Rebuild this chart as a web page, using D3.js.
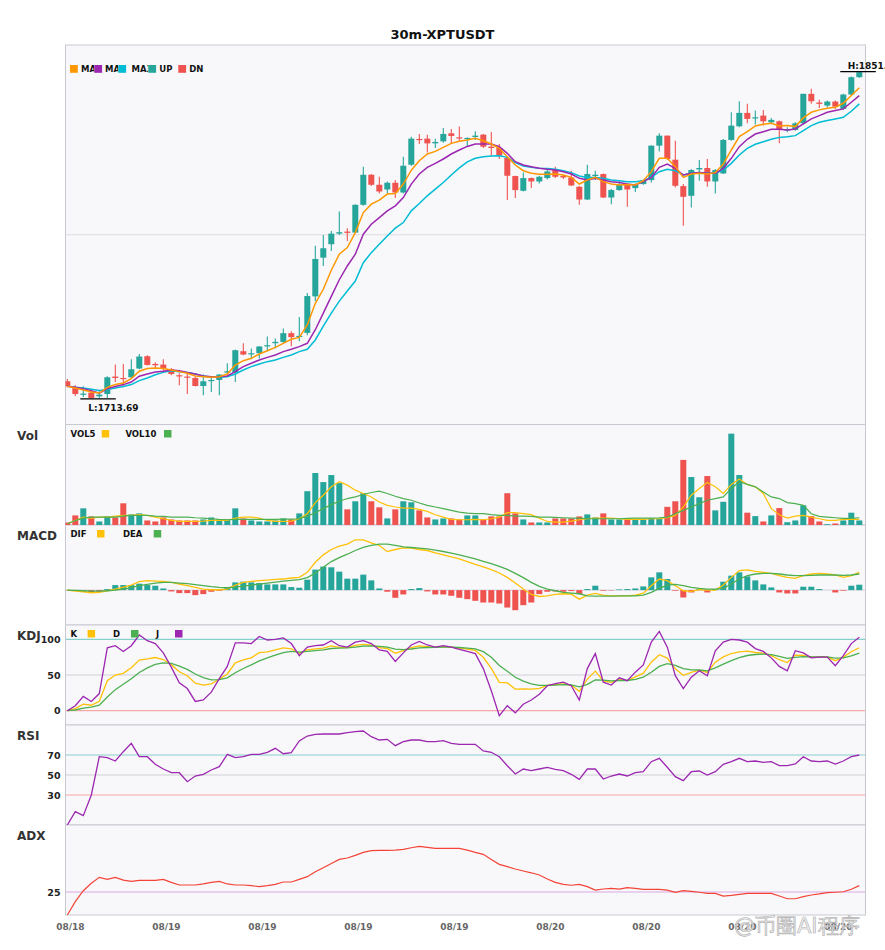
<!DOCTYPE html>
<html><head><meta charset="utf-8">
<script src="https://cdn.jsdelivr.net/npm/d3@7/dist/d3.min.js"></script>
<style>
body{margin:0;background:#fff}
svg{display:block}
text{font-family:"DejaVu Sans",sans-serif}
</style>
</head><body>
<svg id="c" width="885" height="950"></svg>
<script>
// ---------------- DATA ----------------
const title = "30m-XPTUSDT";
const tickIndex = [0,12,24,36,48,60,72,84,96];
const tickLabels = ["08/18","08/19","08/19","08/19","08/19","08/20","08/20","08/20","08/20"];

const open = [1720.85,1718.45,1715.25,1716.09,1714.53,1715.50,1722.83,1722.24,1722.53,1726.20,
1731.38,1728.14,1727.88,1725.90,1723.38,1722.83,1722.24,1718.87,1720.98,1721.40,
1724.51,1724.51,1733.48,1732.22,1732.64,1735.59,1736.85,1737.40,1741.06,1739.51,
1741.19,1756.52,1772.78,1778.42,1782.88,1783.73,1783.30,1794.97,1807.60,1803.39,
1801.41,1804.24,1800.15,1811.82,1822.64,1822.77,1820.79,1821.63,1825.00,1823.31,
1822.64,1823.48,1824.45,1819.40,1818.85,1814.64,1807.06,1800.87,1806.21,1804.78,
1806.21,1809.58,1807.06,1806.47,1802.55,1797.20,1807.06,1807.90,1798.04,1801.16,
1803.39,1802.00,1803.69,1805.37,1819.82,1824.03,1813.92,1802.84,1798.76,1809.84,
1810.43,1804.78,1808.15,1822.22,1827.95,1833.59,1831.32,1832.45,1829.63,1830.05,
1826.26,1826.43,1829.21,1841.59,1837.93,1836.66,1838.35,1835.27,1841.30,1848.58];
const high = [1721.82,1719.16,1718.74,1716.64,1716.64,1722.96,1727.88,1728.14,1730.11,1732.35,
1731.80,1728.85,1730.11,1726.45,1724.22,1723.92,1722.83,1723.67,1722.83,1723.92,
1728.43,1734.20,1736.85,1734.62,1735.72,1739.67,1738.83,1743.04,1741.91,1747.80,
1757.91,1777.83,1782.34,1784.02,1792.15,1785.16,1795.26,1810.97,1807.90,1806.76,
1804.78,1805.37,1815.18,1823.61,1824.74,1824.45,1822.77,1827.27,1826.85,1827.82,
1823.31,1825.84,1824.74,1825.59,1820.53,1815.18,1807.18,1808.57,1806.47,1807.18,
1809.58,1810.97,1807.60,1809.29,1802.84,1811.82,1809.29,1808.15,1801.58,1804.78,
1803.94,1803.94,1805.63,1819.95,1825.00,1824.10,1821.92,1803.69,1810.00,1813.79,
1814.22,1810.00,1822.64,1833.84,1838.47,1837.38,1834.56,1834.85,1831.48,1830.35,
1827.52,1829.63,1841.65,1843.69,1839.07,1838.77,1838.77,1841.59,1848.88,1851.11];
const low = [1718.32,1714.66,1714.24,1713.75,1713.69,1713.82,1720.55,1718.32,1722.24,1725.90,
1727.46,1726.03,1725.06,1723.38,1719.16,1715.50,1718.62,1714.95,1716.34,1714.95,
1723.67,1720.55,1731.80,1730.11,1730.41,1733.48,1734.62,1736.85,1735.59,1737.69,
1740.22,1754.54,1769.28,1775.60,1782.34,1779.81,1782.88,1794.55,1802.84,1799.73,
1799.73,1797.79,1799.73,1811.39,1820.53,1817.00,1818.85,1821.08,1820.79,1821.92,
1819.40,1822.22,1818.85,1815.61,1814.22,1796.95,1797.79,1800.57,1802.00,1803.94,
1805.63,1806.21,1805.79,1802.84,1794.97,1796.95,1805.37,1797.79,1795.26,1800.87,
1794.13,1800.32,1803.39,1804.36,1817.42,1813.92,1802.26,1786.13,1793.83,1805.08,
1802.55,1799.73,1807.90,1821.92,1827.52,1829.21,1828.66,1828.24,1829.21,1820.79,
1825.42,1826.13,1828.66,1837.38,1835.69,1835.95,1835.27,1834.85,1840.87,1848.33];
const close = [1718.74,1715.50,1715.67,1713.82,1715.25,1722.53,1722.24,1721.82,1725.90,1731.25,
1727.71,1727.59,1726.20,1723.92,1722.96,1722.41,1718.87,1720.85,1721.40,1723.67,
1725.06,1733.90,1732.09,1732.64,1735.46,1736.01,1737.40,1741.06,1739.38,1739.93,
1756.65,1772.23,1776.73,1782.88,1783.47,1783.18,1794.97,1807.60,1803.39,1800.57,
1804.24,1800.15,1811.39,1822.77,1822.22,1820.79,1821.38,1824.74,1823.90,1822.89,
1823.06,1824.03,1819.40,1818.85,1815.61,1807.18,1801.16,1806.21,1804.78,1806.76,
1808.99,1806.76,1806.47,1803.10,1797.20,1807.90,1807.60,1798.04,1801.16,1803.39,
1801.41,1803.39,1805.37,1819.82,1824.03,1814.22,1802.97,1798.34,1809.58,1810.43,
1804.78,1809.58,1822.22,1828.24,1833.59,1831.06,1831.74,1830.05,1830.64,1826.43,
1826.68,1829.21,1841.59,1838.47,1837.38,1838.35,1836.24,1841.30,1848.58,1850.69];

const ma5 = [1718.74,1718.03,1717.19,1716.34,1715.92,1718.32,1719.46,1720.13,1721.99,1725.06,
1726.20,1726.45,1726.2,1725.6,1724.9,1724.2,1723.1,1722.8,1722.5,1722.8,
1723.9,1727.7,1729.5,1730.5,1732.3,1733.7,1735.1,1736.8,1738.5,1739.3,
1744.5,1753.6,1759.5,1767.5,1774.21,1776.99,1783.30,1791.73,1795.26,1796.95,
1799.48,1799.73,1803.69,1809.5,1813.5,1816.32,1817.42,1819.10,1820.79,1821.63,
1822.22,1822.9,1821.9,1820.5,1818.7,1815.2,1811.7,1809.3,1808.2,1807.8,
1807.8,1807.9,1807.5,1806.5,1803.7,1805.4,1806.5,1804.7,1803.7,1803.3,
1803.5,1803.3,1805.1,1808.9,1814.5,1814.5,1811.0,1806.5,1807.9,1808.2,
1807.9,1808.5,1812.1,1818.0,1823.6,1825.7,1828.1,1828.8,1829.2,1828.1,
1828.24,1827.82,1831.48,1833.84,1834.85,1835.53,1835.95,1837.63,1840.87,1844.12];
const ma10 = [1718.74,1718.32,1717.77,1716.93,1715.80,1717.77,1718.62,1719.46,1720.55,1722.96,
1723.92,1724.77,1725.06,1725.6,1725.3,1724.5,1723.9,1723.1,1722.8,1722.8,
1723.1,1724.9,1727.0,1728.4,1729.8,1730.9,1731.9,1733.3,1734.3,1735.4,
1736.8,1742.5,1749.5,1756.5,1763.5,1769.28,1774.21,1782.63,1786.84,1789.62,
1792.44,1794.55,1798.04,1803.69,1807.90,1810.68,1812.36,1814.22,1816.32,1818.01,
1819.5,1820.5,1820.5,1820.5,1819.4,1816.6,1813.1,1811.7,1811.0,1810.3,
1809.9,1809.6,1808.9,1807.9,1806.1,1805.4,1806.1,1805.4,1804.7,1804.3,
1803.7,1803.3,1804.7,1806.5,1810.7,1812.1,1810.3,1807.5,1808.2,1808.5,
1808.2,1808.2,1810.3,1814.5,1819.4,1822.5,1824.7,1825.7,1826.7,1826.7,
1826.43,1826.85,1828.96,1831.06,1832.45,1833.84,1834.56,1835.27,1838.05,1840.87];
const ma30 = [1718.74,1718.32,1718.03,1717.48,1716.93,1717.35,1718.03,1718.62,1719.46,1721.14,
1722.24,1723.6,1724.6,1725.3,1724.9,1724.5,1723.9,1723.1,1722.5,1722.5,
1722.8,1723.9,1725.6,1727.0,1728.1,1729.1,1729.8,1730.9,1731.9,1733.3,
1734.3,1738.2,1744.0,1749.5,1754.54,1758.75,1762.96,1770.67,1774.88,1778.42,
1781.91,1785.16,1787.51,1792.44,1795.52,1798.76,1801.58,1804.36,1807.5,1810.5,
1813.0,1814.5,1815.2,1815.5,1815.6,1814.9,1812.7,1811.3,1810.7,1810.3,
1810.2,1809.9,1809.3,1808.5,1807.1,1806.5,1806.5,1806.1,1805.4,1805.1,
1804.7,1804.7,1805.1,1806.5,1808.9,1809.9,1809.3,1807.5,1808.2,1808.5,
1808.2,1808.2,1809.6,1812.4,1815.9,1818.7,1820.4,1821.5,1822.5,1823.3,
1823.6,1824.03,1826.13,1828.24,1829.63,1830.35,1831.06,1831.74,1834.26,1837.38];

const volume = [2.5,9.5,16.5,8.5,3.5,8.5,7.5,21.5,10.5,11.5,
4.5,3.5,7.5,5.5,4.5,4.5,4.5,5.5,7.5,5.5,
5.5,16.5,6.5,4.5,3.5,3.5,4.5,6.5,5.5,11.5,
33.5,51.5,42.5,49.5,41.5,15.5,23.5,31.5,23.5,17.5,
6.5,15.5,23.5,22.5,14.5,7.5,5.5,6.5,6.5,5.5,
9.5,9.5,5.5,8.5,8.5,31.5,11.5,5.5,2.5,2.5,
2.5,6.5,6.5,6.5,8.5,10.5,7.5,11.5,5.5,5.5,
5.5,5.5,5.5,6.5,6.5,18,23.5,64.5,47.5,27.5,
48.5,14.5,23,90.5,49.5,12.2,8.8,3.5,9.5,16.8,
2.8,4.5,19.5,8.8,3.5,0.8,1.5,4.5,12.2,4.5];
const vol5 = [1.2,4.5,7.8,6.8,7.8,7.8,8.8,9.5,9.5,10.2,
9.5,7.8,6.2,4.5,3.5,3.5,3.5,3.8,4.5,4.5,
4.5,6.8,7.8,7.8,6.8,4.5,3.5,3.5,3.8,6.2,
11.2,22.2,29.5,37.8,42.8,39.5,34.5,31.2,27.8,22.8,
19.5,17.8,16.8,16.8,15.5,13.5,10.2,7.8,5.5,5.2,
5.2,5.5,5.2,6.2,7.8,12.2,12.2,11.2,10.2,6.8,
3.5,2.8,2.8,3.8,5.2,6.2,6.8,6.8,6.8,6.2,
5.5,5.5,5.5,6.2,6.2,7.2,9.5,17.8,29.5,36.2,
42.2,37.8,31.2,40.2,45.5,40.2,37.8,31.2,16.2,10.2,
6.8,8.8,9.5,7.8,6.2,4.5,4.5,5.5,5.5,5.5];
const vol10 = [1.2,4.5,6.8,7.8,7.8,7.8,7.8,8.8,9.5,9.5,
9.5,8.8,8.5,7.8,7.8,7.8,7.2,6.8,6.2,5.5,
5.2,5.5,5.5,5.5,5.5,5.5,5.5,5.8,5.8,6.2,
8.8,12.2,16.2,20.2,23.5,26.2,27.8,30.2,32.2,33.5,
31.2,28.5,26.2,24.5,21.8,19.5,17.8,16.2,14.5,12.8,
11.8,11.2,11.2,10.2,9.5,9.5,8.8,8.8,8.5,7.8,
7.8,7.5,7.2,6.8,6.8,6.2,6.2,6.2,6.2,6.2,
6.5,6.8,6.8,6.8,7.2,7.8,11.2,14.5,17.8,21.2,
24.5,26.2,27.8,36.2,42.8,40.2,37.8,32.8,27.8,26.2,
22.2,21.2,19.5,11.2,8.5,7.8,7.2,6.5,6.5,7.2];

const dif = [0,-0.2,-0.33,-0.53,-0.47,-0.13,0.2,0.6,1.0,1.67,
1.87,1.8,1.73,1.53,1.2,0.87,0.53,0.2,0.07,0.07,
0.2,1.0,1.53,1.73,1.87,2.0,2.13,2.2,2.4,2.53,
3.53,5.53,7.0,8.07,8.73,9.13,10.0,10.0,9.4,8.87,
7.67,8.07,8.4,8.33,8.07,7.87,7.4,7.0,6.6,6.2,
5.67,5.13,4.6,4.07,3.4,2.53,1.4,0.2,-0.87,-1.27,
-1.13,-0.87,-0.73,-0.8,-1.8,-1.0,-0.67,-1.0,-1.13,-1.13,
-1.13,-1.0,-0.6,0.87,2.2,1.87,0.87,-0.13,-0.27,0.07,
0,0,1.0,2.53,3.87,4.0,3.73,3.53,3.33,2.87,
2.53,2.33,2.87,3.2,3.33,3.2,3.0,2.53,2.87,3.53];
const dea = [0,-0.07,-0.13,-0.2,-0.2,-0.13,0,0.2,0.47,0.87,
1.13,1.4,1.53,1.53,1.4,1.27,1.07,0.87,0.67,0.53,
0.47,0.6,0.8,1.0,1.2,1.4,1.6,1.8,1.93,2.07,
2.47,3.4,4.53,5.67,6.47,7.13,7.87,8.47,8.87,9.13,
9.13,8.87,8.6,8.47,8.33,8.2,7.93,7.67,7.33,7.0,
6.6,6.2,5.73,5.27,4.73,4.13,3.33,2.47,1.53,0.73,
0.2,-0.13,-0.47,-0.6,-0.73,-1.13,-1.2,-1.2,-1.2,-1.13,
-1.13,-1.13,-1.0,-0.47,0.33,1.0,1.13,0.87,0.53,0.33,
0.2,0.2,0.33,1.2,2.2,2.87,3.2,3.33,3.33,3.2,
3.0,2.87,2.87,2.93,3.0,3.0,3.0,2.93,3.0,3.2];
const macdHist = [-0.07,-0.13,-0.27,-0.47,-0.33,0.2,1.0,1.0,1.0,1.27,
1.0,0.87,0.33,-0.27,-0.6,-0.6,-1.0,-0.8,-0.33,-0.13,
0.4,1.53,1.67,1.53,1.4,1.13,1.13,1.13,0.6,0.47,
2.07,4.07,4.67,4.53,3.67,2.27,2.27,3.07,1.93,0.33,
-0.33,-1.53,-0.87,0.2,0.4,-0.27,-0.87,-0.87,-1.13,-1.53,
-1.8,-2.13,-2.47,-2.47,-2.67,-3.47,-4.0,-3.0,-2.47,-0.8,
-0.33,-0.27,-0.33,-0.2,-0.8,0.2,0.87,-0.13,-0.07,0.13,
0.2,0.33,0.73,2.53,3.53,2.2,-0.13,-1.47,-0.47,0.2,
-0.47,0.2,1.67,2.87,3.53,2.73,1.93,1.13,0.53,-0.47,
-0.67,-0.67,0.67,0.67,0.2,0,-0.47,-0.13,0.87,1.07];

const kLine = [0,3,9.1,7.7,13.1,42.1,50,52.4,60.2,71,
72.6,74.5,71.7,64.5,54.5,48.9,38.6,35.8,37.5,44,
51.4,67.1,71.1,74.1,81.2,82.3,85.1,88.1,86.7,80.4,
85.1,86.5,87.5,90.7,88.8,88.3,91.4,92.9,91.9,88.4,
87.1,80.5,84,88.3,90.9,89.7,88.7,89.6,88.9,87.7,
86.1,84.4,74.8,59.3,39.8,39.1,30.3,30.7,30.1,31.4,
35.3,36.6,37.7,35.9,27.2,44.3,55.4,41.8,39.8,43.5,
42.2,47.3,52.6,67.9,78.4,73.6,58.7,49.6,53.8,56.7,
53.6,67.9,75.4,80.1,82.5,83.5,81.5,80.5,77,71.4,
67.5,77.8,77.4,74.9,75.2,75.2,70,75,82.6,88.1];
const dLine = [0,1,3.7,5,7.7,19.2,29.5,37.1,44.8,53.5,
59.9,64.8,67.1,66.2,62.3,57.8,51.4,46.2,43.3,43.5,
46.1,53.1,59.1,64.1,69.8,74,77.7,81.2,83,82.1,
83.1,84.2,85.3,87.1,87.7,87.9,89.1,90.4,90.9,90.1,
89.1,86.2,85.5,86.4,87.9,88.5,88.6,88.9,88.9,88.5,
87.7,86.6,82.7,74.9,63.2,55.2,46.9,41.5,37.7,35.6,
35.5,35.9,36.5,36.3,33.3,37,43.1,42.7,41.7,42.3,
42.3,44,46.9,53.9,62.1,65.9,63.5,58.9,57.2,57,
55.9,59.9,65.1,70.1,74.2,77.3,78.7,79.3,78.5,76.1,
73.2,74.7,75.6,75.4,75.3,75.3,73.5,74,76.9,80.6];
const jLine = [0,7,20,13,24,88,91,83,91,106,
98,94,81,61,39,31,13,15,26,45,
62,95,95,94,104,99,100,102,94,77,
89,91,92,98,91,89,96,98,94,85,
83,69,81,92,97,92,89,91,89,86,
83,80,59,28,-7,7,-3,9,15,23,
35,38,40,35,15,59,80,40,36,46,
42,54,64,96,111,89,49,31,47,56,
49,84,96,100,99,96,87,83,74,62,
56,84,81,74,75,75,63,77,94,103];

const rsi = [0,13.3,9.3,30,68.3,67.3,64,73.3,81.7,68.3,
68.3,60.7,56,52.3,52.3,43.3,49,50.7,55,58.3,
70.7,67.3,68.3,70.7,70.7,72.7,76.7,71.3,72.3,84,
89,90.7,91,91,91,92.3,93.3,94,88.3,85,
85.7,79.3,83.3,85,85,83.3,83.3,84.3,81.7,80.7,
80.7,80.7,74,72.7,68.3,59.3,51,56,54.3,56,
57.7,55.7,54.3,50.7,45.7,56,56,46,49,51,
49,52.3,53.3,63.3,66.7,57.7,48.3,44.3,53.3,54,
50,53.3,60.7,63.3,66.7,63.3,64,62.7,63.3,59.3,
59.3,61,68.3,64,63.3,64,61,64,68.3,70];

const adx = [7.3,17.6,26,31.7,36.3,34.7,36.3,34.2,33.2,34,
34,34,34.7,32.4,30.4,30.4,30.4,31.2,32.4,33.2,
31.2,30.4,30.4,29.9,29.1,29.9,30.9,32.7,32.7,34.7,
36.8,40.6,43.7,47,50.1,51.2,53.2,55.5,56.8,57.1,
57.1,57.3,57.8,59.1,60.2,59.4,58.6,58.6,58.6,58.6,
57.3,55.5,54,50.1,46.3,44.5,42.7,41.2,39.8,38.1,
35,32.4,30.9,30.2,30.9,29.1,26.5,27.3,27.8,27.3,
28.3,27.8,27.1,27.1,27.1,26.5,24.8,26,25.5,24.8,
24,24,21.9,22.4,23.2,24,24,24,24,21.9,
19.8,19.8,21.4,22.7,23.5,24.5,24.8,25.2,27.1,29.9];

const kdjLevels = [0,50,100];
const rsiLevels = [30,50,70];
const adxLevels = [25];

// ---------------- STYLE ----------------
const C = {up:"#26A69A", dn:"#EF5350", ma5:"#FF9800", ma10:"#9C27B0", ma30:"#00BCD4",
  yel:"#FFC107", grn:"#4CAF50", pur:"#9C27B0", adx:"#F44336",
  bg:"#f8f8fb", border:"#c8c8d2"};
const L = 65.5, R = 865.5;
const P = {
  main:[45,424.5], vol:[424.5,525], macd:[525,625], kdj:[625,725], rsi:[725,825], adx:[825,915]
};

const svg = d3.select("#c");
const n = close.length, idx = d3.range(n);
const xs = d3.scaleBand().domain(idx).range([63.3, 863.3]);
const cx = i => xs(i) + xs.bandwidth()/2;
const isUp = i => close[i] >= open[i];

Object.entries(P).forEach(([k,[t,b]])=>{
  svg.append("rect").attr("x",L).attr("y",t).attr("width",R-L).attr("height",b-t)
    .attr("fill",C.bg).attr("stroke",C.border).attr("stroke-width",1);
  svg.append("clipPath").attr("id","clip-"+k).append("rect")
    .attr("x",L).attr("y",t).attr("width",R-L).attr("height",b-t);
});

svg.append("text").attr("x",442.5).attr("y",39).attr("text-anchor","middle")
  .attr("font-size",13).attr("font-weight","bold").attr("fill","#111").text(title);

// ---- main price panel ----
const lo = d3.min(low), hi = d3.max(high), pad = (hi-lo)*0.08;
const yP = d3.scaleLinear().domain([lo-pad, hi+pad]).range([P.main[1], P.main[0]]);
const gMain = svg.append("g").attr("clip-path","url(#clip-main)");
gMain.append("line").attr("x1",L).attr("x2",R)
  .attr("y1",yP((lo+hi)/2)).attr("y2",yP((lo+hi)/2)).attr("stroke","#dcdce2").attr("stroke-width",1);

gMain.selectAll("line.wick").data(idx).join("line").attr("class","wick")
  .attr("x1",cx).attr("x2",cx).attr("y1",i=>yP(high[i])).attr("y2",i=>yP(low[i]))
  .attr("stroke",i=>isUp(i)?C.up:C.dn).attr("stroke-width",1.1);
gMain.selectAll("rect.body").data(idx).join("rect").attr("class","body")
  .attr("x",i=>cx(i)-3).attr("width",6)
  .attr("y",i=>yP(Math.max(open[i],close[i])))
  .attr("height",i=>Math.max(1.2, Math.abs(yP(open[i])-yP(close[i]))))
  .attr("fill",i=>isUp(i)?C.up:C.dn);

const line = (ys, arr) => d3.line().x((d,i)=>cx(i)).y(d=>ys(d))(arr);
[[ma30,C.ma30],[ma10,C.ma10],[ma5,C.ma5]].forEach(([a,c])=>{
  gMain.append("path").attr("d",line(yP,a)).attr("fill","none").attr("stroke",c).attr("stroke-width",1.5);
});

const iHi = high.indexOf(hi), iLo = low.indexOf(lo);
svg.append("line").attr("x1",cx(iHi)-19).attr("x2",cx(iHi)+16.5).attr("y1",yP(hi)+0.5).attr("y2",yP(hi)+0.5)
  .attr("stroke","#000").attr("stroke-width",1.2);
svg.append("text").attr("x",cx(iHi)-11.6).attr("y",yP(hi)-2.5).attr("font-size",9).attr("font-weight","bold")
  .attr("fill","#111").text("H:"+hi.toFixed(2));
svg.append("line").attr("x1",cx(iLo)-19).attr("x2",cx(iLo)+16.5).attr("y1",yP(lo)+0.5).attr("y2",yP(lo)+0.5)
  .attr("stroke","#000").attr("stroke-width",1.2);
svg.append("text").attr("x",cx(iLo)-11).attr("y",yP(lo)+13).attr("font-size",9).attr("font-weight","bold")
  .attr("fill","#111").text("L:"+lo.toFixed(2));

const mainLegend = [
  {sq:70, tx:81, end:94.3, c:C.ma5, t:"MA5"},
  {sq:94.3, tx:105, end:118.3, c:C.ma10, t:"MA10"},
  {sq:118.3, tx:131.5, end:148.3, c:C.ma30, t:"MA30"},
  {sq:148.3, tx:159.3, end:178, c:C.up, t:"UP"},
  {sq:178.3, tx:189.3, end:240, c:C.dn, t:"DN"}
];
mainLegend.forEach((d,k)=>{
  svg.append("clipPath").attr("id","lg"+k).append("rect").attr("x",d.tx-1).attr("y",55).attr("width",d.end-d.tx+1).attr("height",25);
  svg.append("text").attr("x",d.tx).attr("y",72).attr("font-size",8.5).attr("font-weight","bold")
    .attr("fill","#111").attr("clip-path","url(#lg"+k+")").text(d.t);
  svg.append("rect").attr("x",d.sq).attr("y",65).attr("width",7.8).attr("height",7.8).attr("fill",d.c);
});

[["Vol",P.vol[0]],["MACD",P.macd[0]],["KDJ",P.kdj[0]],["RSI",P.rsi[0]],["ADX",P.adx[0]]].forEach(([t,y])=>{
  svg.append("text").attr("x",17).attr("y",y+15).attr("font-size",12).attr("font-weight","bold")
    .attr("fill","#333").text(t);
});
function legend(items, y){
  items.forEach(d=>{
    svg.append("text").attr("x",d.x).attr("y",y+7).attr("font-size",8.5).attr("font-weight","bold").attr("fill","#111").text(d.t);
    svg.append("rect").attr("x",d.sq).attr("y",y).attr("width",7.5).attr("height",7.5).attr("fill",d.c);
  });
}

// ---- volume ----
const yV = d3.scaleLinear().domain([0, d3.max(volume)*1.1]).range([P.vol[1], P.vol[0]]);
const gVol = svg.append("g").attr("clip-path","url(#clip-vol)");
gVol.selectAll("rect").data(idx).join("rect")
  .attr("x",i=>cx(i)-3).attr("width",6).attr("y",i=>yV(volume[i])).attr("height",i=>yV(0)-yV(volume[i]))
  .attr("fill",i=>isUp(i)?C.up:C.dn);
gVol.append("path").attr("d",line(yV,vol5)).attr("fill","none").attr("stroke",C.yel).attr("stroke-width",1.2);
gVol.append("path").attr("d",line(yV,vol10)).attr("fill","none").attr("stroke",C.grn).attr("stroke-width",1.2);
legend([{x:70.5,t:"VOL5",sq:101.7,c:C.yel},{x:125.4,t:"VOL10",sq:164,c:C.grn}], 430);

// ---- MACD ----
const mExt = d3.extent([...dif,...dea,...macdHist]);
const mPad = (mExt[1]-mExt[0])*0.21;
const yM = d3.scaleLinear().domain([mExt[0]-mPad, mExt[1]+mPad]).range([P.macd[1], P.macd[0]]);
const gM = svg.append("g").attr("clip-path","url(#clip-macd)");
gM.append("line").attr("x1",L).attr("x2",R).attr("y1",yM(0)).attr("y2",yM(0)).attr("stroke","#d0d0d8");
gM.selectAll("rect").data(idx).join("rect")
  .attr("x",i=>cx(i)-3).attr("width",6)
  .attr("y",i=>Math.min(yM(0),yM(macdHist[i]))).attr("height",i=>Math.abs(yM(macdHist[i])-yM(0)))
  .attr("fill",i=>macdHist[i]>=0?C.up:C.dn);
gM.append("path").attr("d",line(yM,dif)).attr("fill","none").attr("stroke",C.yel).attr("stroke-width",1.3);
gM.append("path").attr("d",line(yM,dea)).attr("fill","none").attr("stroke",C.grn).attr("stroke-width",1.3);
legend([{x:70.5,t:"DIF",sq:97,c:C.yel},{x:123,t:"DEA",sq:153.7,c:C.grn}], 530);

// ---- level panels ----
function levelPanel(key, domain, levels, colors){
  const ys = d3.scaleLinear().domain(domain).range([P[key][1], P[key][0]]);
  const g = svg.append("g").attr("clip-path","url(#clip-"+key+")");
  levels.forEach((v,k)=>g.append("line").attr("x1",L).attr("x2",R).attr("y1",ys(v)).attr("y2",ys(v))
    .attr("stroke",colors[k]).attr("stroke-width",1.2));
  const ax = svg.append("g").attr("transform","translate("+L+",0)")
    .call(d3.axisLeft(ys).tickValues(levels).tickSize(0).tickPadding(5).tickFormat(d3.format("d")));
  ax.select(".domain").remove();
  ax.selectAll("text").attr("font-family","DejaVu Sans").attr("font-size",9.5).attr("font-weight","bold").attr("fill","#222");
  return {ys,g};
}
const kdj = levelPanel("kdj",[-20,120],kdjLevels,["#f7a8a8","#cfcfd6","#86d0cb"]);
[[kLine,C.yel],[dLine,C.grn],[jLine,C.pur]].forEach(([a,c])=>
  kdj.g.append("path").attr("d",line(kdj.ys,a)).attr("fill","none").attr("stroke",c).attr("stroke-width",1.3));
legend([{x:70.5,t:"K",sq:87.6,c:C.yel},{x:113,t:"D",sq:131,c:C.grn},{x:156,t:"J",sq:175,c:C.pur}], 630);

const rs = levelPanel("rsi",[0,100],rsiLevels,["#f7a8a8","#cfcfd6","#86d0cb"]);
rs.g.append("path").attr("d",line(rs.ys,rsi)).attr("fill","none").attr("stroke",C.pur).attr("stroke-width",1.3);

const aExt = d3.extent(adx);
const ad = levelPanel("adx",[aExt[0], aExt[1]+(aExt[1]-aExt[0])*0.31],adxLevels,["#dba8e3"]);
ad.g.append("path").attr("d",line(ad.ys,adx)).attr("fill","none").attr("stroke",C.adx).attr("stroke-width",1.2);

// ---- x axis ----
const xa = svg.append("g").attr("transform","translate(0,"+P.adx[1]+")")
  .call(d3.axisBottom(xs).tickValues(tickIndex).tickSize(0).tickPadding(9)
    .tickFormat(d=>tickLabels[tickIndex.indexOf(d)]));
xa.select(".domain").remove();
xa.selectAll("text").attr("font-family","DejaVu Sans").attr("font-size",9).attr("font-weight","bold")
  .attr("fill","#666").attr("dx",3);

// watermark (overlay present in the reference picture)
svg.append("text").attr("x",734).attr("y",933).attr("font-family","Noto Sans CJK SC")
  .attr("font-size",21).attr("fill","#eeeeee").attr("fill-opacity",0.85)
  .attr("stroke","#b5b5b5").attr("stroke-width",0.7).text("@币圈AI程序");
</script>
</body></html>
